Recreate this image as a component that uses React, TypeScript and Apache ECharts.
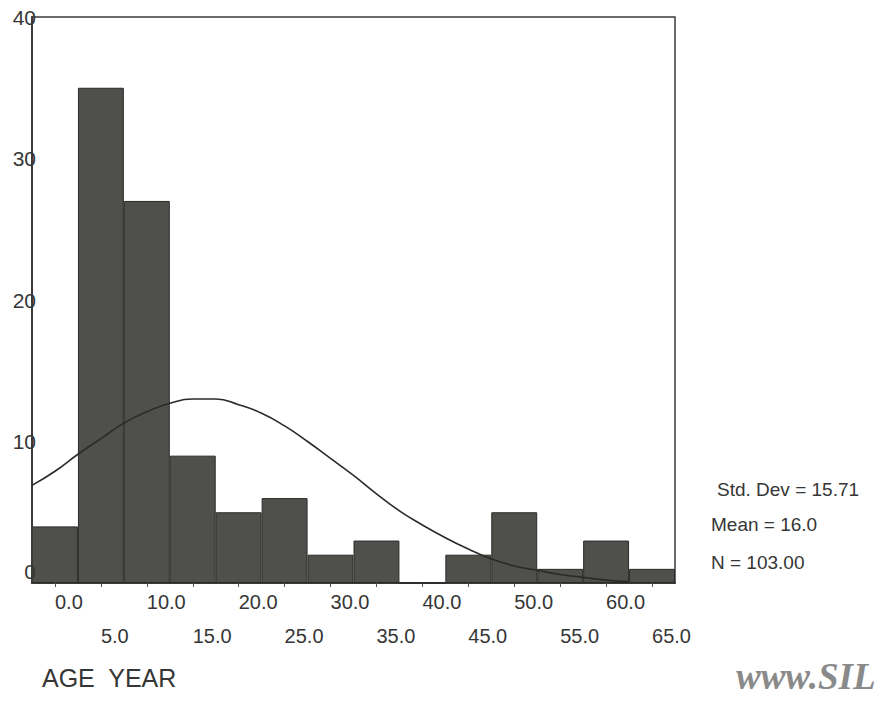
import React, { useEffect, useRef } from "react";
import * as echarts from "echarts";

// Histogram bins (bin centres, width 5)
const binLabels = ["0.0", "5.0", "10.0", "15.0", "20.0", "25.0", "30.0", "35.0", "40.0", "45.0", "50.0", "55.0", "60.0", "65.0"];
const binCounts = [4, 35, 27, 9, 5, 6, 2, 3, 0, 2, 5, 1, 3, 1];

// Fitted normal curve
const curveX = [-2.5, 0, 2.5, 5, 7.5, 10, 12.5, 15, 17.5, 20, 22.5, 25, 27.5, 30, 32.5, 35, 37.5, 40, 42.5, 45, 47.5, 50, 52.5, 55, 57.5, 60, 62.5];
const curveY = [6.9, 7.9, 9.1, 10.2, 11.3, 12.1, 12.7, 13.0, 13.0, 12.6, 12.0, 11.1, 10.0, 8.8, 7.6, 6.3, 5.1, 4.1, 3.2, 2.4, 1.7, 1.2, 0.9, 0.6, 0.4, 0.2, 0.1];

const yTicks = [0, 10, 20, 30, 40];
const statLines = ["Std. Dev = 15.71", "Mean = 16.0", "N = 103.00"];
const axisTitle = "AGE  YEAR";
const watermark = "www.SIL";

const FONT = "'Liberation Sans', Arial, sans-serif";
const INK = "#363636";

export default function App() {
  const ref = useRef<HTMLDivElement>(null);

  useEffect(() => {
    if (!ref.current) return;
    const chart = echarts.init(ref.current, null, { renderer: "svg" });
    const option: any = {
      animation: false,
      backgroundColor: "#ffffff",
      grid: {
        left: 32,
        right: 206,
        top: 17,
        bottom: 135,
        show: true,
        borderColor: "#3a3a3a",
        borderWidth: 1.5,
        backgroundColor: "transparent",
      },
      xAxis: [
        {
          type: "category",
          data: binLabels,
          boundaryGap: true,
          axisLine: { show: true, onZero: false, lineStyle: { color: "#3a3a3a", width: 2 } },
          axisTick: { show: true, alignWithLabel: true, length: 4, lineStyle: { color: "#555" } },
          splitLine: { show: false },
          axisLabel: {
            interval: 0,
            align: "left",
            margin: 2,
            color: INK,
            fontFamily: FONT,
            fontSize: 20,
            lineHeight: 34,
            formatter: (v: string, i: number) => (i % 2 === 0 ? v : "\n" + v),
          },
        },
        {
          type: "value",
          min: -2.5,
          max: 67.5,
          show: false,
        },
      ],
      yAxis: {
        type: "value",
        min: yTicks[0],
        max: yTicks[yTicks.length - 1],
        interval: 10,
        axisLine: { show: true, onZero: false, lineStyle: { color: "#3a3a3a", width: 2 } },
        axisTick: { show: false },
        splitLine: { show: false },
        axisLabel: {
          margin: -4,
          color: INK,
          fontFamily: FONT,
          fontSize: 21,
          formatter: (v: number) => (v === 0 ? "{z|0}" : String(v)),
          rich: { z: { fontSize: 21, fontFamily: FONT, color: INK, padding: [0, 0, 24, 0] } },
        },
        z: 3,
      },
      series: [
        {
          type: "bar",
          data: binCounts,
          xAxisIndex: 0,
          barWidth: "100%",
          barCategoryGap: 0,
          itemStyle: { color: "#4f4f4b", borderColor: "#2a2a2a", borderWidth: 1 },
          z: 2,
        },
        {
          type: "line",
          xAxisIndex: 1,
          data: curveX.map((x, i) => [x, curveY[i]]),
          smooth: true,
          showSymbol: false,
          lineStyle: { color: "#2a2a2a", width: 1.6 },
          z: 5,
        },
      ],
      graphic: [
        ...statLines.map((t, i) => ({
          type: "text",
          left: i === 0 ? 717 : 711,
          top: [480, 515, 553][i],
          style: { text: t, fill: INK, font: `19px ${FONT}` },
        })),
        {
          type: "text",
          left: 42,
          top: 665,
          style: { text: axisTitle, fill: INK, font: `25px ${FONT}` },
        },
        {
          type: "text",
          left: 736,
          top: 658,
          style: {
            text: watermark,
            fill: "#8a8a8a",
            font: `italic bold 37px 'Liberation Serif', 'DejaVu Serif', serif`,
          },
        },
      ],
    };
    chart.setOption(option);
    return () => chart.dispose();
  }, []);

  return (
    <div
      ref={ref}
      style={{ position: "absolute", left: 0, top: 0, width: 881, height: 718, background: "#fff" }}
    />
  );
}
